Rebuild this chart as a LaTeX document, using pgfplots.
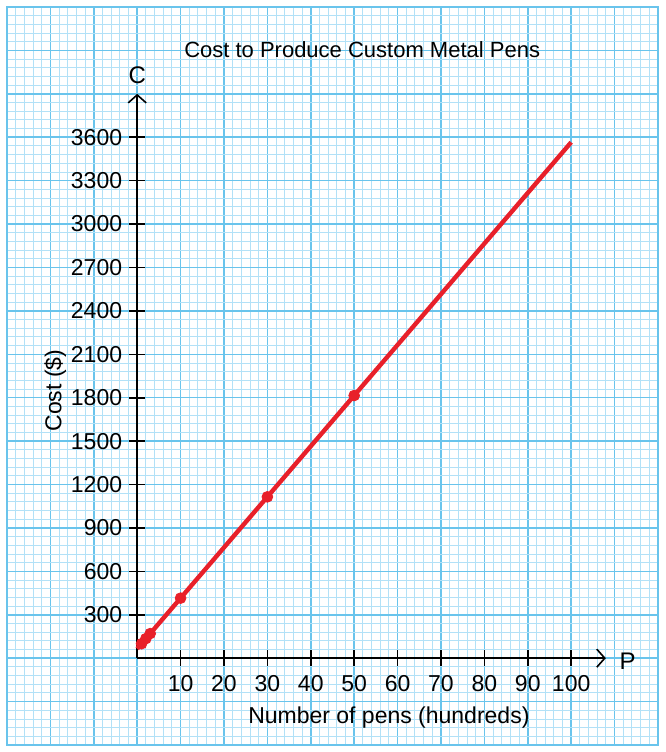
\documentclass[border=0pt]{standalone}
\usepackage{fontspec}
\setmainfont{Liberation Sans}
\usepackage{pgfplots}
\pgfplotsset{compat=1.18}
\usetikzlibrary{arrows.meta}
\definecolor{gridmajor}{RGB}{105,196,236}
\definecolor{gridminor}{RGB}{178,225,247}
\definecolor{penred}{RGB}{232,32,42}
\begin{document}
\begin{tikzpicture}
% graph paper
\begin{axis}[
  name=paper,
  x=2.17pt, y=0.0723529pt,
  xmin=-30, xmax=120, ymin=-600, ymax=4500,
  enlargelimits=false,
  xtick={-30,-20,...,120}, ytick={-600,-300,...,4500},
  minor x tick num=4, minor y tick num=4,
  xticklabels={}, yticklabels={},
  major tick length=0pt, minor tick length=0pt,
  grid=both,
  minor grid style={draw=gridminor, line width=0.45pt},
  major grid style={draw=gridmajor, line width=0.75pt},
  axis line style={draw=gridmajor, line width=0.75pt},
]
\addplot[draw=none] coordinates {(0,0)};
\end{axis}
% chart
\begin{axis}[
  at={(paper.south west)}, anchor=south west,
  xshift=65.1pt, yshift=43.41pt,
  x=2.17pt, y=0.0723529pt,
  xmin=0, xmax=108, ymin=0, ymax=3900,
  enlargelimits=false,
  clip=false,
  axis lines=left,
  axis line style={line width=0.9pt, black, -{Straight Barb[length=4pt,width=9pt,line width=0.8pt]}},
  tick align=center,
  major tick length=8pt,
  tick style={black, line width=0.8pt},
  xtick={10,20,...,100},
  ytick={300,600,...,3600},
  /pgf/number format/assume math mode=true,
  /pgf/number format/1000 sep={},
  tick label style={font=\fontsize{11.5}{13}\selectfont},
  xticklabel style={yshift=-1pt},
  yticklabel style={xshift=0pt},
  every axis title shift=0pt,
  title={Cost to Produce Custom Metal Pens},
  title style={at={(axis description cs:0.48,1.078)}, anchor=center, font=\fontsize{11}{13}\selectfont},
  xlabel={Number of pens (hundreds)},
  xlabel style={at={(axis description cs:0.537,-0.105)}, anchor=center, font=\fontsize{11.5}{13}\selectfont},
  ylabel={Cost (\$)},
  ylabel style={at={(axis description cs:-0.175,0.474)}, anchor=center, rotate=0, font=\fontsize{11.5}{13}\selectfont},
]
\addplot[penred, line width=2.2pt] coordinates {(0,65) (100,3565)};
\addplot[penred, only marks, mark=*, mark size=2.7pt] coordinates {(1,100) (2,135) (3,170) (10,415) (30,1115) (50,1815)};
\node[font=\fontsize{12}{14}\selectfont] at (axis cs:0,4030) {C};
\node[font=\fontsize{12}{14}\selectfont] at (axis cs:113,-20) {P};
\end{axis}
\pgfresetboundingbox
\path[use as bounding box] ([shift={(-3.5pt,-3.5pt)}]paper.south west) rectangle ([shift={(4pt,3.5pt)}]paper.north east);
\end{tikzpicture}
\end{document}
